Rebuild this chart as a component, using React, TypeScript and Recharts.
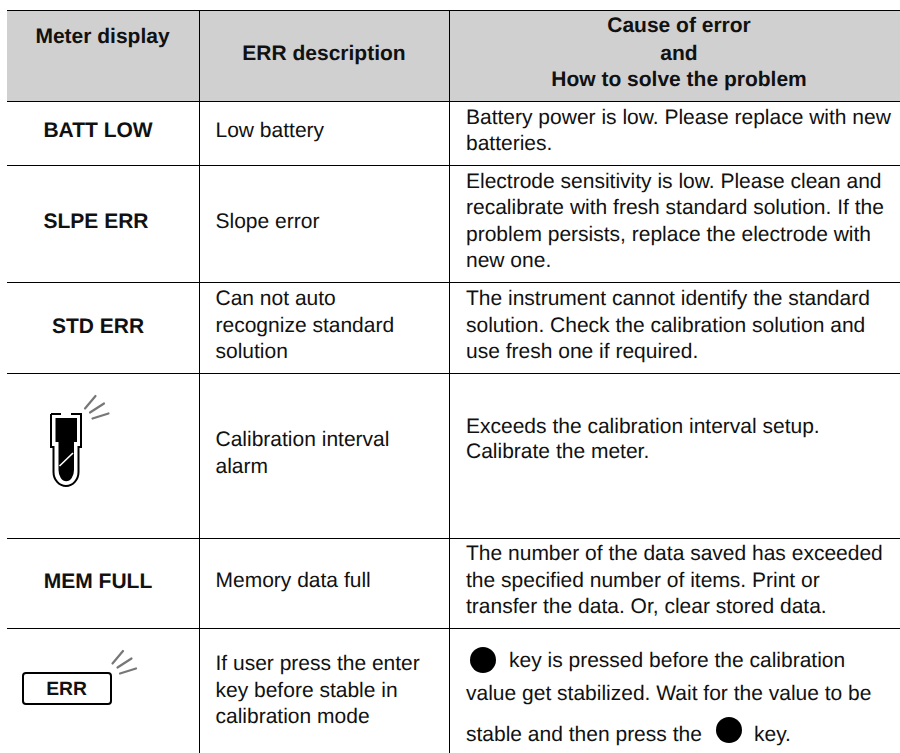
import React from 'react';
import { ScatterChart, Scatter, XAxis, YAxis, ReferenceArea, ReferenceLine } from 'recharts';

// Table edges, in the chart's own axis units
const columnEdges = [7, 199.5, 449.5, 900];
const rowEdges = [10.5, 101.5, 165.5, 282.5, 373.5, 538.5, 628.5];
const tableBottom = 753;

const meterLabels = ['Meter display', 'BATT LOW', 'SLPE ERR', 'STD ERR', 'MEM FULL'];
const meterX = [102.5, 98, 96, 98, 98];
const meterY = [43, 137, 228, 333, 588];

const descriptionLabels = [
  'Low battery',
  'Slope error',
  'Can not auto',
  'recognize standard',
  'solution',
  'Calibration interval',
  'alarm',
  'Memory data full',
  'If user press the enter',
  'key before stable in',
  'calibration mode',
];
const descriptionY = [137, 228, 305, 332, 358, 446, 473, 587, 670, 697, 723];

const causeLabels = [
  'Battery power is low. Please replace with new',
  'batteries.',
  'Electrode sensitivity is low. Please clean and',
  'recalibrate with fresh standard solution. If the',
  'problem persists, replace the electrode with',
  'new one.',
  'The instrument cannot identify the standard',
  'solution. Check the calibration solution and',
  'use fresh one if required.',
  'Exceeds the calibration interval setup.',
  'Calibrate the meter.',
  'The number of the data saved has exceeded',
  'the specified number of items. Print or',
  'transfer the data. Or, clear stored data.',
  'value get stabilized. Wait for the value to be',
  'stable and then press the',
];
const causeY = [124, 150, 188, 214, 241, 267, 305, 332, 358, 433, 458, 560, 587, 613, 700, 741];

const headerCenter = ['ERR description', 'Cause of error', 'and', 'How to solve the problem'];
const headerCenterX = [324, 679, 679, 679];
const headerCenterY = [60, 32, 60, 86];

const keyLabels = ['key is pressed before the calibration', 'key.'];
const keyX = [509, 754];
const keyY = [667, 741];

const bulletX = [483, 729];
const bulletY = [660, 730];

const FONT = '"Liberation Sans", Arial, sans-serif';
const FONT_SIZE = 21;
const INK = '#111';

const textPoints = [
  ...meterLabels.map((text, i) => ({ x: meterX[i], y: meterY[i], text, bold: true, anchor: 'middle' })),
  ...headerCenter.map((text, i) => ({ x: headerCenterX[i], y: headerCenterY[i], text, bold: true, anchor: 'middle' })),
  ...descriptionLabels.map((text, i) => ({ x: 215.5, y: descriptionY[i], text, bold: false, anchor: 'start' })),
  ...causeLabels.map((text, i) => ({ x: 466, y: causeY[i], text, bold: false, anchor: 'start' })),
  ...keyLabels.map((text, i) => ({ x: keyX[i], y: keyY[i], text, bold: false, anchor: 'start' })),
];

const bulletPoints = bulletX.map((x, i) => ({ x, y: bulletY[i] }));
const probePoint = [{ x: 66, y: 450 }];
const keyPoint = [{ x: 66.5, y: 688 }];

const TextShape = (props: any) => {
  const { cx, cy, payload } = props;
  return (
    <text
      x={cx}
      y={cy}
      textAnchor={payload.anchor}
      textRendering="geometricPrecision"
      fontFamily={FONT}
      fontSize={FONT_SIZE}
      fontWeight={payload.bold ? 700 : 400}
      fill={INK}
    >
      {payload.text}
    </text>
  );
};

const BulletShape = (props: any) => <circle cx={props.cx} cy={props.cy} r={13} fill="#000" />;

const Rays = ({ dx, dy }: { dx: number; dy: number }) => (
  <g transform={`translate(${dx} ${dy})`} stroke="#777" strokeWidth={2.2} strokeLinecap="round">
    <line x1={0} y1={12.5} x2={10.5} y2={0} />
    <line x1={5} y1={16.5} x2={19} y2={7.5} />
    <line x1={7.5} y1={22.5} x2={23.5} y2={17.5} />
  </g>
);

// Flashing electrode icon
const ProbeShape = (props: any) => {
  const { cx, cy } = props;
  return (
    <g transform={`translate(${cx} ${cy})`}>
      <path
        d="M-15 -36 H-5 M5 -36 H15 V-3 H12.5 V22 A12.5 14 0 0 1 -12.5 22 V-3 H-15 V-36"
        fill="none"
        stroke="#000"
        strokeWidth={2}
      />
      <path d="M-10.5 -32 H11 V-8 H8 V20 A7.5 11 0 0 1 -7.5 20 V-8 H-10.5 Z" fill="#000" />
      <line x1={-6.5} y1={16} x2={7} y2={3} stroke="#fff" strokeWidth={1.6} />
      <Rays dx={19} dy={-54} />
    </g>
  );
};

// Flashing ERR key icon
const KeyShape = (props: any) => {
  const { cx, cy } = props;
  return (
    <g transform={`translate(${cx} ${cy})`}>
      <rect x={-43.5} y={-15} width={88} height={31} rx={3} fill="none" stroke="#000" strokeWidth={2} />
      <text
        x={0}
        y={7}
        textAnchor="middle"
        textRendering="geometricPrecision"
        fontFamily={FONT}
        fontSize={19.3}
        fontWeight={700}
        fill={INK}
      >
        ERR
      </text>
      <Rays dx={46} dy={-37} />
    </g>
  );
};

export default function App() {
  return (
    <div style={{ position: 'absolute', left: 0, top: 0, width: 900, height: 753 }}>
      <ScatterChart width={900} height={753} margin={{ top: 0, right: 0, bottom: 0, left: 0 }}>
        <XAxis type="number" dataKey="x" domain={[0, 900]} hide />
        <YAxis type="number" dataKey="y" domain={[0, 753]} reversed hide />
        <ReferenceArea
          x1={columnEdges[0]}
          x2={columnEdges[3]}
          y1={rowEdges[0]}
          y2={rowEdges[1]}
          fill="#d0d0d0"
          fillOpacity={1}
          stroke="none"
        />
        {rowEdges.map((y) => (
          <ReferenceLine
            key={`row-${y}`}
            segment={[
              { x: columnEdges[0], y },
              { x: columnEdges[3], y },
            ]}
            stroke="#000"
            strokeWidth={1}
          />
        ))}
        {columnEdges.slice(1, 3).map((x) => (
          <ReferenceLine
            key={`col-${x}`}
            segment={[
              { x, y: rowEdges[0] },
              { x, y: tableBottom },
            ]}
            stroke="#000"
            strokeWidth={1}
          />
        ))}
        <Scatter data={textPoints} shape={TextShape} isAnimationActive={false} />
        <Scatter data={bulletPoints} shape={BulletShape} isAnimationActive={false} />
        <Scatter data={probePoint} shape={ProbeShape} isAnimationActive={false} />
        <Scatter data={keyPoint} shape={KeyShape} isAnimationActive={false} />
      </ScatterChart>
    </div>
  );
}
